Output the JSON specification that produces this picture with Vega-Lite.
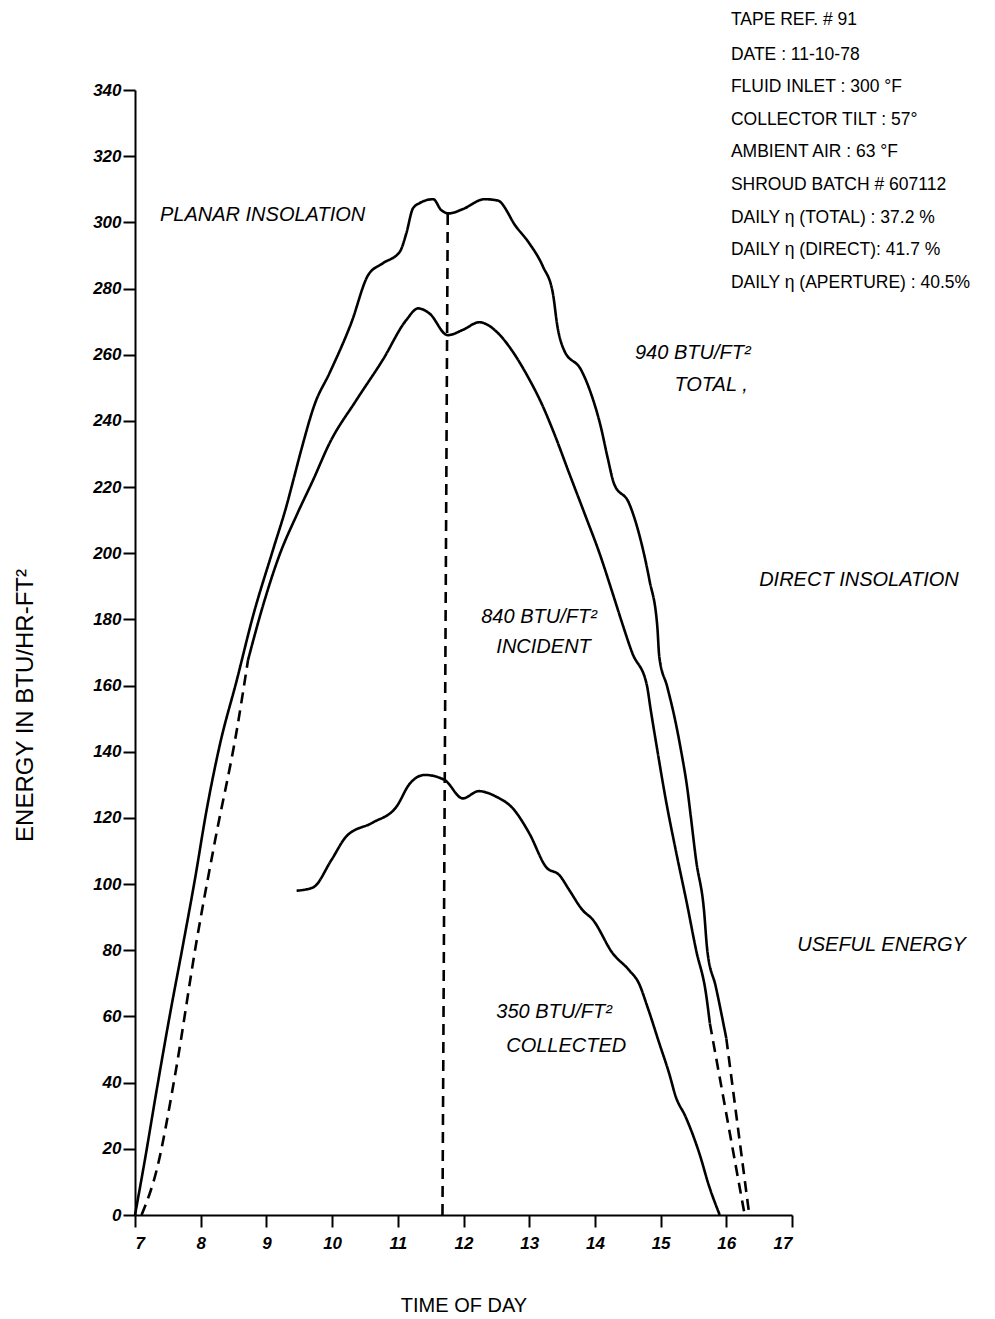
{
  "$schema": "https://vega.github.io/schema/vega-lite/v6.json",
  "width": 657,
  "height": 1125,
  "autosize": {"type": "none"},
  "padding": {"left": 135, "top": 90, "right": 203, "bottom": 104},
  "background": "white",
  "config": {"view": {"stroke": null}},
  "datasets": {
    "curves": [
      {"series": "Planar insolation", "kind": "measured", "hour": 7.00, "energy": 0},
      {"series": "Planar insolation", "kind": "measured", "hour": 7.15, "energy": 16.6},
      {"series": "Planar insolation", "kind": "measured", "hour": 7.33, "energy": 37.8},
      {"series": "Planar insolation", "kind": "measured", "hour": 7.53, "energy": 60.4},
      {"series": "Planar insolation", "kind": "measured", "hour": 7.73, "energy": 81.6},
      {"series": "Planar insolation", "kind": "measured", "hour": 7.91, "energy": 101.2},
      {"series": "Planar insolation", "kind": "measured", "hour": 8.09, "energy": 122.4},
      {"series": "Planar insolation", "kind": "measured", "hour": 8.29, "energy": 142.0},
      {"series": "Planar insolation", "kind": "measured", "hour": 8.55, "energy": 161.7},
      {"series": "Planar insolation", "kind": "measured", "hour": 8.80, "energy": 181.3},
      {"series": "Planar insolation", "kind": "measured", "hour": 9.10, "energy": 201.0},
      {"series": "Planar insolation", "kind": "measured", "hour": 9.31, "energy": 214.6},
      {"series": "Planar insolation", "kind": "measured", "hour": 9.41, "energy": 222.1},
      {"series": "Planar insolation", "kind": "measured", "hour": 9.53, "energy": 231.2},
      {"series": "Planar insolation", "kind": "measured", "hour": 9.74, "energy": 245.3},
      {"series": "Planar insolation", "kind": "measured", "hour": 9.96, "energy": 254.4},
      {"series": "Planar insolation", "kind": "measured", "hour": 10.29, "energy": 269.5},
      {"series": "Planar insolation", "kind": "measured", "hour": 10.55, "energy": 284.1},
      {"series": "Planar insolation", "kind": "measured", "hour": 10.77, "energy": 287.6},
      {"series": "Planar insolation", "kind": "measured", "hour": 11.03, "energy": 291.1},
      {"series": "Planar insolation", "kind": "measured", "hour": 11.13, "energy": 296.7},
      {"series": "Planar insolation", "kind": "measured", "hour": 11.23, "energy": 304.2},
      {"series": "Planar insolation", "kind": "measured", "hour": 11.33, "energy": 305.8},
      {"series": "Planar insolation", "kind": "measured", "hour": 11.54, "energy": 307.0},
      {"series": "Planar insolation", "kind": "measured", "hour": 11.66, "energy": 303.7},
      {"series": "Planar insolation", "kind": "measured", "hour": 11.78, "energy": 302.7},
      {"series": "Planar insolation", "kind": "measured", "hour": 11.99, "energy": 304.0},
      {"series": "Planar insolation", "kind": "measured", "hour": 12.32, "energy": 307.0},
      {"series": "Planar insolation", "kind": "measured", "hour": 12.52, "energy": 306.6},
      {"series": "Planar insolation", "kind": "measured", "hour": 12.80, "energy": 298.7},
      {"series": "Planar insolation", "kind": "measured", "hour": 13.00, "energy": 293.7},
      {"series": "Planar insolation", "kind": "measured", "hour": 13.21, "energy": 286.6},
      {"series": "Planar insolation", "kind": "measured", "hour": 13.36, "energy": 278.6},
      {"series": "Planar insolation", "kind": "measured", "hour": 13.43, "energy": 268.5},
      {"series": "Planar insolation", "kind": "measured", "hour": 13.53, "energy": 261.4},
      {"series": "Planar insolation", "kind": "measured", "hour": 13.79, "energy": 255.4},
      {"series": "Planar insolation", "kind": "measured", "hour": 13.94, "energy": 248.3},
      {"series": "Planar insolation", "kind": "measured", "hour": 14.09, "energy": 238.2},
      {"series": "Planar insolation", "kind": "measured", "hour": 14.19, "energy": 229.2},
      {"series": "Planar insolation", "kind": "measured", "hour": 14.29, "energy": 221.1},
      {"series": "Planar insolation", "kind": "measured", "hour": 14.52, "energy": 215.1},
      {"series": "Planar insolation", "kind": "measured", "hour": 14.67, "energy": 206.0},
      {"series": "Planar insolation", "kind": "measured", "hour": 14.83, "energy": 191.9},
      {"series": "Planar insolation", "kind": "measured", "hour": 14.95, "energy": 177.8},
      {"series": "Planar insolation", "kind": "measured", "hour": 14.98, "energy": 168.7},
      {"series": "Planar insolation", "kind": "measured", "hour": 15.10, "energy": 159.7},
      {"series": "Planar insolation", "kind": "measured", "hour": 15.21, "energy": 150.6},
      {"series": "Planar insolation", "kind": "measured", "hour": 15.31, "energy": 140.5},
      {"series": "Planar insolation", "kind": "measured", "hour": 15.41, "energy": 128.4},
      {"series": "Planar insolation", "kind": "measured", "hour": 15.46, "energy": 120.4},
      {"series": "Planar insolation", "kind": "measured", "hour": 15.54, "energy": 107.3},
      {"series": "Planar insolation", "kind": "measured", "hour": 15.66, "energy": 92.2},
      {"series": "Planar insolation", "kind": "measured", "hour": 15.71, "energy": 80.1},
      {"series": "Planar insolation", "kind": "measured", "hour": 15.84, "energy": 69.0},
      {"series": "Planar insolation", "kind": "measured", "hour": 16.00, "energy": 53.4},
      {"series": "Planar extrapolated", "kind": "extrapolated", "hour": 16.00, "energy": 53.4},
      {"series": "Planar extrapolated", "kind": "extrapolated", "hour": 16.35, "energy": 0},
      {"series": "Direct extrapolated AM", "kind": "extrapolated", "hour": 7.10, "energy": 0},
      {"series": "Direct extrapolated AM", "kind": "extrapolated", "hour": 7.33, "energy": 13.6},
      {"series": "Direct extrapolated AM", "kind": "extrapolated", "hour": 7.61, "energy": 42.3},
      {"series": "Direct extrapolated AM", "kind": "extrapolated", "hour": 7.94, "energy": 83.1},
      {"series": "Direct extrapolated AM", "kind": "extrapolated", "hour": 8.22, "energy": 113.3},
      {"series": "Direct extrapolated AM", "kind": "extrapolated", "hour": 8.55, "energy": 146.6},
      {"series": "Direct extrapolated AM", "kind": "extrapolated", "hour": 8.72, "energy": 167.7},
      {"series": "Direct insolation", "kind": "measured", "hour": 8.72, "energy": 167.7},
      {"series": "Direct insolation", "kind": "measured", "hour": 8.95, "energy": 184.3},
      {"series": "Direct insolation", "kind": "measured", "hour": 9.20, "energy": 199.5},
      {"series": "Direct insolation", "kind": "measured", "hour": 9.46, "energy": 211.5},
      {"series": "Direct insolation", "kind": "measured", "hour": 9.71, "energy": 222.1},
      {"series": "Direct insolation", "kind": "measured", "hour": 9.96, "energy": 233.2},
      {"series": "Direct insolation", "kind": "measured", "hour": 10.37, "energy": 246.3},
      {"series": "Direct insolation", "kind": "measured", "hour": 10.77, "energy": 258.4},
      {"series": "Direct insolation", "kind": "measured", "hour": 11.13, "energy": 270.5},
      {"series": "Direct insolation", "kind": "measured", "hour": 11.31, "energy": 274.0},
      {"series": "Direct insolation", "kind": "measured", "hour": 11.48, "energy": 272.5},
      {"series": "Direct insolation", "kind": "measured", "hour": 11.76, "energy": 265.9},
      {"series": "Direct insolation", "kind": "measured", "hour": 11.99, "energy": 267.5},
      {"series": "Direct insolation", "kind": "measured", "hour": 12.24, "energy": 269.8},
      {"series": "Direct insolation", "kind": "measured", "hour": 12.37, "energy": 269.0},
      {"series": "Direct insolation", "kind": "measured", "hour": 12.50, "energy": 267.0},
      {"series": "Direct insolation", "kind": "measured", "hour": 12.80, "energy": 259.4},
      {"series": "Direct insolation", "kind": "measured", "hour": 12.95, "energy": 254.4},
      {"series": "Direct insolation", "kind": "measured", "hour": 13.21, "energy": 244.3},
      {"series": "Direct insolation", "kind": "measured", "hour": 13.38, "energy": 236.2},
      {"series": "Direct insolation", "kind": "measured", "hour": 13.61, "energy": 224.1},
      {"series": "Direct insolation", "kind": "measured", "hour": 13.86, "energy": 211.1},
      {"series": "Direct insolation", "kind": "measured", "hour": 14.07, "energy": 200.0},
      {"series": "Direct insolation", "kind": "measured", "hour": 14.27, "energy": 187.9},
      {"series": "Direct insolation", "kind": "measured", "hour": 14.40, "energy": 179.8},
      {"series": "Direct insolation", "kind": "measured", "hour": 14.57, "energy": 169.8},
      {"series": "Direct insolation", "kind": "measured", "hour": 14.79, "energy": 160.2},
      {"series": "Direct insolation", "kind": "measured", "hour": 14.85, "energy": 152.6},
      {"series": "Direct insolation", "kind": "measured", "hour": 14.95, "energy": 140.5},
      {"series": "Direct insolation", "kind": "measured", "hour": 15.08, "energy": 125.4},
      {"series": "Direct insolation", "kind": "measured", "hour": 15.23, "energy": 110.3},
      {"series": "Direct insolation", "kind": "measured", "hour": 15.41, "energy": 93.2},
      {"series": "Direct insolation", "kind": "measured", "hour": 15.54, "energy": 80.1},
      {"series": "Direct insolation", "kind": "measured", "hour": 15.69, "energy": 67.0},
      {"series": "Direct insolation", "kind": "measured", "hour": 15.75, "energy": 57.9},
      {"series": "Direct extrapolated PM", "kind": "extrapolated", "hour": 15.75, "energy": 57.9},
      {"series": "Direct extrapolated PM", "kind": "extrapolated", "hour": 16.28, "energy": 0},
      {"series": "Useful energy", "kind": "measured", "hour": 9.46, "energy": 98.0},
      {"series": "Useful energy", "kind": "measured", "hour": 9.71, "energy": 99.0},
      {"series": "Useful energy", "kind": "measured", "hour": 9.99, "energy": 107.3},
      {"series": "Useful energy", "kind": "measured", "hour": 10.22, "energy": 114.5},
      {"series": "Useful energy", "kind": "measured", "hour": 10.62, "energy": 118.6},
      {"series": "Useful energy", "kind": "measured", "hour": 10.98, "energy": 123.4},
      {"series": "Useful energy", "kind": "measured", "hour": 11.18, "energy": 130.3},
      {"series": "Useful energy", "kind": "measured", "hour": 11.41, "energy": 133.0},
      {"series": "Useful energy", "kind": "measured", "hour": 11.71, "energy": 131.5},
      {"series": "Useful energy", "kind": "measured", "hour": 11.99, "energy": 125.9},
      {"series": "Useful energy", "kind": "measured", "hour": 12.23, "energy": 128.1},
      {"series": "Useful energy", "kind": "measured", "hour": 12.50, "energy": 126.4},
      {"series": "Useful energy", "kind": "measured", "hour": 12.75, "energy": 122.9},
      {"series": "Useful energy", "kind": "measured", "hour": 13.00, "energy": 115.4},
      {"series": "Useful energy", "kind": "measured", "hour": 13.26, "energy": 105.1},
      {"series": "Useful energy", "kind": "measured", "hour": 13.46, "energy": 102.7},
      {"series": "Useful energy", "kind": "measured", "hour": 13.61, "energy": 98.2},
      {"series": "Useful energy", "kind": "measured", "hour": 13.81, "energy": 92.2},
      {"series": "Useful energy", "kind": "measured", "hour": 13.97, "energy": 89.2},
      {"series": "Useful energy", "kind": "measured", "hour": 14.27, "energy": 79.1},
      {"series": "Useful energy", "kind": "measured", "hour": 14.52, "energy": 74.0},
      {"series": "Useful energy", "kind": "measured", "hour": 14.67, "energy": 70.0},
      {"series": "Useful energy", "kind": "measured", "hour": 14.80, "energy": 62.9},
      {"series": "Useful energy", "kind": "measured", "hour": 14.98, "energy": 51.9},
      {"series": "Useful energy", "kind": "measured", "hour": 15.13, "energy": 42.8},
      {"series": "Useful energy", "kind": "measured", "hour": 15.23, "energy": 35.8},
      {"series": "Useful energy", "kind": "measured", "hour": 15.38, "energy": 29.7},
      {"series": "Useful energy", "kind": "measured", "hour": 15.59, "energy": 18.6},
      {"series": "Useful energy", "kind": "measured", "hour": 15.74, "energy": 8.6},
      {"series": "Useful energy", "kind": "measured", "hour": 15.90, "energy": 0},
      {"series": "Solar noon", "kind": "extrapolated", "hour": 11.68, "energy": 0},
      {"series": "Solar noon", "kind": "extrapolated", "hour": 11.76, "energy": 303}
    ],
    "labels": [
      {"group": "annotation", "text": "PLANAR INSOLATION", "hour": 7.38, "energy": 302.2},
      {"group": "annotation", "text": "940 BTU/FT²", "hour": 14.61, "energy": 260.5},
      {"group": "annotation", "text": "TOTAL ,", "hour": 15.21, "energy": 250.8},
      {"group": "annotation", "text": "DIRECT INSOLATION", "hour": 16.5, "energy": 191.9},
      {"group": "annotation", "text": "840 BTU/FT²", "hour": 12.27, "energy": 180.7},
      {"group": "annotation", "text": "INCIDENT", "hour": 12.5, "energy": 171.7},
      {"group": "annotation", "text": "USEFUL ENERGY", "hour": 17.08, "energy": 81.6},
      {"group": "annotation", "text": "350 BTU/FT²", "hour": 12.5, "energy": 61.3},
      {"group": "annotation", "text": "COLLECTED", "hour": 12.65, "energy": 51.1},
      {"group": "info", "text": "TAPE REF. # 91", "hour": 16.07, "energy": 361.1},
      {"group": "info", "text": "DATE : 11-10-78", "hour": 16.07, "energy": 350.5},
      {"group": "info", "text": "FLUID INLET : 300 °F", "hour": 16.07, "energy": 340.9},
      {"group": "info", "text": "COLLECTOR TILT : 57°", "hour": 16.07, "energy": 330.9},
      {"group": "info", "text": "AMBIENT AIR : 63 °F", "hour": 16.07, "energy": 321.2},
      {"group": "info", "text": "SHROUD BATCH # 607112", "hour": 16.07, "energy": 311.2},
      {"group": "info", "text": "DAILY η (TOTAL) : 37.2 %", "hour": 16.07, "energy": 301.3},
      {"group": "info", "text": "DAILY η (DIRECT): 41.7 %", "hour": 16.07, "energy": 291.6},
      {"group": "info", "text": "DAILY η (APERTURE) : 40.5%", "hour": 16.07, "energy": 281.6}
    ]
  },
  "layer": [
    {
      "data": {"name": "curves"},
      "mark": {"type": "line", "color": "black", "strokeWidth": 2.6, "interpolate": "monotone"},
      "encoding": {
        "x": {
          "field": "hour", "type": "quantitative",
          "scale": {"domain": [7, 17], "nice": false, "zero": false},
          "axis": {
            "values": [7, 8, 9, 10, 11, 12, 13, 14, 15, 16, 17],
            "format": "d",
            "title": "TIME OF DAY",
            "grid": false,
            "domainColor": "black", "domainWidth": 2,
            "tickColor": "black", "tickWidth": 2, "tickSize": 12,
            "labelColor": "black", "labelFont": "Liberation Sans", "labelFontStyle": "italic",
            "labelFontWeight": "bold", "labelFontSize": 17, "labelPadding": 8,
            "titleColor": "black", "titleFont": "Liberation Sans", "titleFontSize": 20,
            "titleFontWeight": "normal", "titleY": 80, "titleBaseline": "top"
          }
        },
        "y": {
          "field": "energy", "type": "quantitative",
          "scale": {"domain": [0, 340], "nice": false},
          "axis": {
            "values": [0, 20, 40, 60, 80, 100, 120, 140, 160, 180, 200, 220, 240, 260, 280, 300, 320, 340],
            "title": "ENERGY  IN  BTU/HR-FT²",
            "grid": false,
            "domainColor": "black", "domainWidth": 2,
            "tickColor": "black", "tickWidth": 2, "tickSize": 12,
            "labelColor": "black", "labelFont": "Liberation Sans", "labelFontStyle": "italic",
            "labelFontWeight": "bold", "labelFontSize": 17, "labelPadding": 2,
            "titleColor": "black", "titleFont": "Liberation Sans", "titleFontSize": 24,
            "titleFontWeight": "normal", "titleX": -98, "titleY": 615, "titleAngle": -90
          }
        },
        "detail": {"field": "series", "type": "nominal"},
        "strokeDash": {
          "field": "kind", "type": "nominal",
          "scale": {"domain": ["measured", "extrapolated"], "range": [[1, 0], [11, 7]]},
          "legend": null
        }
      }
    },
    {
      "data": {"name": "labels"},
      "transform": [{"filter": "datum.group === 'annotation'"}],
      "mark": {"type": "text", "align": "left", "baseline": "middle", "font": "Liberation Sans", "fontSize": 20, "fontStyle": "italic", "color": "black"},
      "encoding": {
        "x": {"field": "hour", "type": "quantitative"},
        "y": {"field": "energy", "type": "quantitative"},
        "text": {"field": "text"}
      }
    },
    {
      "data": {"name": "labels"},
      "transform": [{"filter": "datum.group === 'info'"}],
      "mark": {"type": "text", "align": "left", "baseline": "middle", "font": "Liberation Sans", "fontSize": 17.5, "color": "black"},
      "encoding": {
        "x": {"field": "hour", "type": "quantitative"},
        "y": {"field": "energy", "type": "quantitative"},
        "text": {"field": "text"}
      }
    }
  ]
}
